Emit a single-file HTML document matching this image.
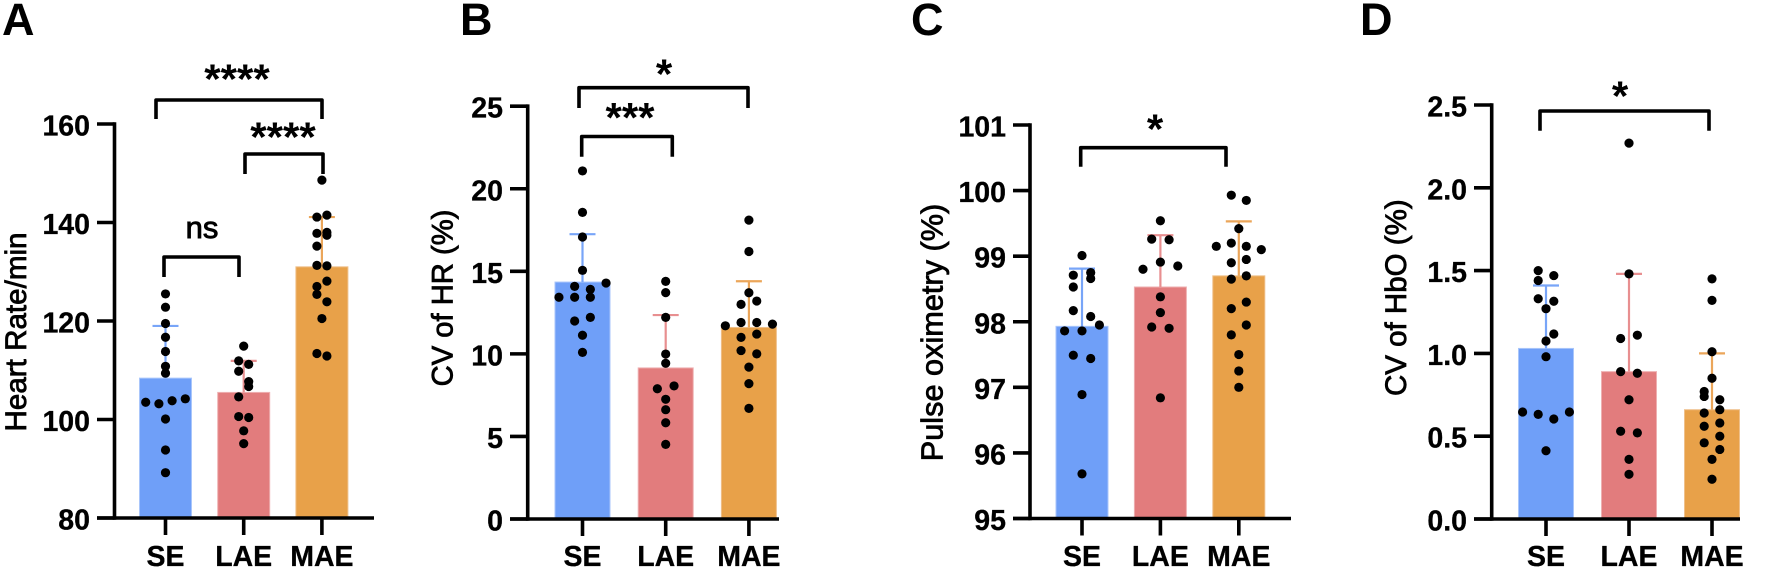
<!DOCTYPE html>
<html lang="en">
<head>
<meta charset="utf-8">
<title>Physiological measures by group</title>
<style>
html,body{margin:0;padding:0;background:#fff;width:1772px;height:576px;overflow:hidden}
svg{display:block;filter:blur(.35px)}
text{font-family:"Liberation Sans",Arial,sans-serif;fill:#000}
</style>
</head>
<body>
<svg id="figure" xmlns="http://www.w3.org/2000/svg" width="1772" height="576" viewBox="0 0 1772 576"></svg>
<script>
const categories = ['SE', 'LAE', 'MAE'];

const aTicks = [80, 100, 120, 140, 160];
const aMeans = [108.4, 105.5, 131.0];
const aUppers = [119.0, 111.9, 141.1];
const aSe = [125.5,122.8,119.5,116.7,113.8,110.8,109.4,103.5,103.2,103.8,104.2,100.1,93.8,89.2];
const aSeRows = [1,1,1,1,1,1,1,4,1,1,1];
const aLae = [114.9,111.9,111.2,109.8,107.7,104.6,106.7,100.6,100.4,97.7,95.1];
const aLaeRows = [1,2,2,2,2,1,1];
const aMae = [148.6,141.1,141.5,137.8,138.0,135.2,137.4,131.3,131.2,127.0,128.1,125.4,123.9,120.5,113.4,112.9];
const aMaeRows = [1,2,2,2,2,2,2,1,2];

const bTicks = [0, 5, 10, 15, 20, 25];
const bMeans = [14.35, 9.15, 11.6];
const bUppers = [17.25, 12.35, 14.4];
const bSe = [21.08,18.57,17.08,15.06,13.43,14.09,13.91,14.29,13.43,13.43,11.99,12.21,11.13,10.09];
const bSeRows = [1,1,1,1,4,2,2,1,1];
const bLae = [14.39,13.71,12.21,9.99,9.43,7.89,8.06,7.25,6.62,5.83,4.52];
const bLaeRows = [1,1,1,1,1,2,1,1,1,1];
const bMae = [18.1,16.2,13.7,13.0,13.2,11.7,11.9,11.9,11.8,11.0,11.2,10.2,10.0,9.2,8.2,6.7];
const bMaeRows = [1,1,1,2,4,2,2,1,1,1];

const cTicks = [95, 96, 97, 98, 99, 100, 101];
const cMeans = [97.93, 98.53, 98.7];
const cUppers = [98.81, 99.32, 99.53];
const cSe = [99.01,98.71,98.75,98.53,98.66,98.17,98.08,97.86,97.86,97.95,97.49,97.44,96.89,95.68];
const cSeRows = [1,2,2,2,3,2,1,1];
const cLae = [99.54,99.26,99.25,98.8,98.91,98.85,98.38,98.14,97.92,97.9,96.84];
const cLaeRows = [1,2,3,1,1,2,1];
const cMae = [99.93,99.85,99.42,99.15,99.2,99.15,99.1,98.9,98.95,98.65,98.7,98.2,98.3,97.8,97.95,97.5,97.25,97.0];
const cMaeRows = [2,1,4,2,2,2,2,1,1,1];

const dTicks = [0.0, 0.5, 1.0, 1.5, 2.0, 2.5];
const dMeans = [1.03, 0.89, 0.66];
const dUppers = [1.41, 1.48, 1.0];
const dSe = [1.50,1.47,1.44,1.315,1.33,1.117,1.27,1.075,0.98,0.646,0.632,0.604,0.646,0.412];
const dSeRows = [2,2,2,1,1,1,4,1];
const dLae = [2.27,1.48,1.09,1.11,0.89,0.88,0.72,0.53,0.52,0.36,0.27];
const dLaeRows = [1,1,2,2,1,2,1,1];
const dMae = [1.45,1.32,1.01,0.85,0.77,0.72,0.74,0.66,0.64,0.58,0.56,0.5,0.46,0.42,0.36,0.24];
const dMaeRows = [1,1,1,1,2,2,2,2,2,1,1];

const SVG_NS = 'http://www.w3.org/2000/svg';
const figure = document.getElementById('figure');
const barFills = ['#6f9ff8', '#e27c7d', '#e8a149'];
const barEdges = ['#a9c6fb', '#eeb0b1', '#efc08a'];
const capColors = ['#78a5f8', '#e88f90', '#eba65a'];

function make(tag, attrs, parent, content) {
  const node = document.createElementNS(SVG_NS, tag);
  for (const key in attrs) node.setAttribute(key, attrs[key]);
  if (content !== undefined) node.textContent = content;
  parent.appendChild(node);
  return node;
}

function linearScale(d0, d1, r0, r1) {
  return function (v) { return r0 + (v - d0) * (r1 - r0) / (d1 - d0); };
}

function drawPanel(cfg) {
  const g = make('g', {}, figure);
  
  

  const y = linearScale(cfg.ticks[0], cfg.ticks[cfg.ticks.length - 1], cfg.yBottom, cfg.yTop);
  const x = function (i) { return cfg.firstCenter + i * cfg.step; };

  const letter = make('text', {x: cfg.letterX, y: 35, 'font-size': 45, 'font-weight': 700}, g, cfg.letter);
  
  

  cfg.means.forEach(function (mean, i) {
    const cx = x(i);
    const bar = make('rect', {
      x: cx - cfg.barWidth / 2, y: y(mean), width: cfg.barWidth,
      height: cfg.yBottom - y(mean), fill: barFills[i], stroke: barEdges[i], 'stroke-width': 1
    }, g);
    
    

    const stem = make('line', {x1: cx, x2: cx, y1: y(mean), y2: y(cfg.uppers[i]), stroke: capColors[i], 'stroke-width': 2.2}, g);
    
    

    const cap = make('line', {x1: cx - 13, x2: cx + 13, y1: y(cfg.uppers[i]), y2: y(cfg.uppers[i]), stroke: capColors[i], 'stroke-width': 2.2}, g);
    
    
  });

  cfg.points.forEach(function (values, i) {
    const rows = cfg.rows[i];
    let index = 0;
    rows.forEach(function (count) {
      for (let k = 0; k < count; k++) {
        const offset = (k - (count - 1) / 2) * cfg.spreads[i];
        const dot = make('circle', {cx: x(i) + offset, cy: y(values[index]), r: 4.6, fill: '#000'}, g);
        
        
        index++;
      }
    });
  });

  const yAxis = make('line', {x1: cfg.axisX, x2: cfg.axisX, y1: cfg.yTop - 1.8, y2: cfg.yBottom + 1.8, stroke: '#000', 'stroke-width': 3.6}, g);
  
  

  const xAxis = make('line', {x1: cfg.tickLeft, x2: cfg.axisEnd, y1: cfg.yBottom, y2: cfg.yBottom, stroke: '#000', 'stroke-width': 3.6}, g);
  
  

  cfg.ticks.forEach(function (tick) {
    const mark = make('line', {x1: cfg.tickLeft, x2: cfg.axisX, y1: y(tick), y2: y(tick), stroke: '#000', 'stroke-width': 3.6}, g);
    
    

    const label = make('text', {x: cfg.tickLeft - 7, y: y(tick) + 11.5, 'text-anchor': 'end', 'font-size': 28.5, 'font-weight': 700, stroke: '#000', 'stroke-width': 0.3}, g, tick.toFixed(cfg.decimals));
    
    
  });

  categories.forEach(function (name, i) {
    const mark = make('line', {x1: x(i), x2: x(i), y1: cfg.yBottom, y2: cfg.yBottom + 17, stroke: '#000', 'stroke-width': 3.6}, g);
    
    

    const label = make('text', {x: x(i), y: 566, 'text-anchor': 'middle', 'font-size': 28.5, 'font-weight': 700, stroke: '#000', 'stroke-width': 0.3}, g, name);
    
    
  });

  const title = make('text', {
    transform: 'translate(' + cfg.titleX + ' ' + cfg.titleY + ') rotate(-90)',
    'text-anchor': 'middle', 'font-size': cfg.titleSize, stroke: '#000', 'stroke-width': 0.8
  }, g, cfg.title);
  
  

  cfg.brackets.forEach(function (b) {
    const path = make('path', {
      d: 'M' + b.x1 + ' ' + b.yEnd + 'V' + b.yTop + 'H' + b.x2 + 'V' + b.yEnd,
      fill: 'none', stroke: '#000', 'stroke-width': 3.6, 'stroke-linejoin': 'round'
    }, g);
    
    

    const mark = make('text', b.label === 'ns'
      ? {x: b.labelX, y: b.labelY, 'text-anchor': 'middle', 'font-size': 31, stroke: '#000', 'stroke-width': 0.9}
      : {x: b.labelX, y: b.labelY, 'text-anchor': 'middle', 'font-size': 42, 'font-weight': 700}, g, b.label);
    
    
  });
}

drawPanel({
  letter: 'A', letterX: 2, title: 'Heart Rate/min', titleX: 26, titleY: 332, titleSize: 29.6,
  ticks: aTicks, decimals: 0, means: aMeans, uppers: aUppers,
  points: [aSe, aLae, aMae], rows: [aSeRows, aLaeRows, aMaeRows], spreads: [13.2, 10, 10],
  axisX: 114.5, tickLeft: 97, axisEnd: 374, yTop: 124, yBottom: 518,
  firstCenter: 165.5, step: 78.2, barWidth: 52,
  brackets: [
    {x1: 156, x2: 322, yTop: 100, yEnd: 119, label: '****', labelX: 237, labelY: 93.5},
    {x1: 245, x2: 323, yTop: 154, yEnd: 174, label: '****', labelX: 283, labelY: 151.5},
    {x1: 164, x2: 239, yTop: 257, yEnd: 277, label: 'ns', labelX: 202, labelY: 238}
  ]
});

drawPanel({
  letter: 'B', letterX: 460, title: 'CV of HR (%)', titleX: 452.7, titleY: 298, titleSize: 29.2,
  ticks: bTicks, decimals: 0, means: bMeans, uppers: bUppers,
  points: [bSe, bLae, bMae], rows: [bSeRows, bLaeRows, bMaeRows], spreads: [15.7, 16.7, 15.7],
  axisX: 527.7, tickLeft: 510, axisEnd: 779, yTop: 106.2, yBottom: 519,
  firstCenter: 582.5, step: 83.2, barWidth: 55,
  brackets: [
    {x1: 579, x2: 748, yTop: 87.7, yEnd: 108, label: '*', labelX: 664, labelY: 88.5},
    {x1: 581.7, x2: 672.3, yTop: 136.5, yEnd: 156.7, label: '***', labelX: 630, labelY: 132}
  ]
});

drawPanel({
  letter: 'C', letterX: 911, title: 'Pulse oximetry (%)', titleX: 942.7, titleY: 332.5, titleSize: 30.7,
  ticks: cTicks, decimals: 0, means: cMeans, uppers: cUppers,
  points: [cSe, cLae, cMae], rows: [cSeRows, cLaeRows, cMaeRows], spreads: [17.4, 17.4, 15],
  axisX: 1030, tickLeft: 1013, axisEnd: 1291, yTop: 125, yBottom: 518.5,
  firstCenter: 1082, step: 78.4, barWidth: 52,
  brackets: [
    {x1: 1080.7, x2: 1226, yTop: 147.7, yEnd: 166.7, label: '*', labelX: 1155, labelY: 143.5}
  ]
});

drawPanel({
  letter: 'D', letterX: 1360, title: 'CV of HbO (%)', titleX: 1406, titleY: 297.7, titleSize: 29.5,
  ticks: dTicks, decimals: 1, means: dMeans, uppers: dUppers,
  points: [dSe, dLae, dMae], rows: [dSeRows, dLaeRows, dMaeRows], spreads: [15.6, 16.7, 15.6],
  axisX: 1491.7, tickLeft: 1474, axisEnd: 1740, yTop: 105, yBottom: 519,
  firstCenter: 1546, step: 83, barWidth: 55,
  brackets: [
    {x1: 1540, x2: 1709, yTop: 111, yEnd: 130.7, label: '*', labelX: 1620, labelY: 110.5}
  ]
});
</script>
</body>
</html>
